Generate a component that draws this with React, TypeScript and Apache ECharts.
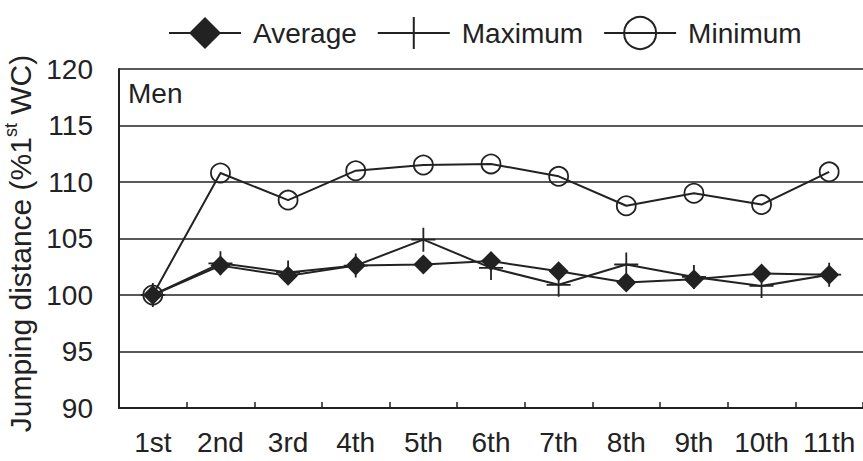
import React, { useEffect, useRef } from "react";
import * as echarts from "echarts";

const categories = ["1st", "2nd", "3rd", "4th", "5th", "6th", "7th", "8th", "9th", "10th", "11th"];
const averageValues = [100, 102.6, 101.7, 102.6, 102.7, 103.0, 102.1, 101.1, 101.4, 101.9, 101.8];
const maximumValues = [100, 102.8, 102.0, 102.6, 104.9, 102.4, 100.9, 102.7, 101.6, 100.8, 101.8];
const minimumValues = [100, 110.8, 108.4, 111.0, 111.5, 111.6, 110.5, 107.9, 109.0, 108.0, 110.9];
const yMin = 90;
const yMax = 120;
const yInterval = 5;

const INK = "#222";
const FONT = "Liberation Sans, Arial, sans-serif";
const PLUS = "path://M5,0 L5,10 M0,5 L10,5";

export default function App() {
  const ref = useRef<HTMLDivElement>(null);
  useEffect(() => {
    if (!ref.current) return;
    const chart = echarts.init(ref.current, null, { renderer: "svg" });
    chart.setOption({
      animation: false,
      textStyle: { fontFamily: FONT, color: INK },
      legend: {
        left: 163,
        top: 11,
        itemWidth: 72,
        itemHeight: 40,
        itemGap: 20,
        textStyle: { fontSize: 28, color: INK, fontFamily: FONT, padding: [0, 0, 0, 7] },
        data: ["Average", "Maximum", "Minimum"],
      },
      grid: { left: 119, right: 0, top: 69, bottom: 53, containLabel: false, outerBoundsMode: "none" },
      xAxis: {
        type: "category",
        data: categories,
        boundaryGap: true,
        axisLine: { lineStyle: { color: INK, width: 2 } },
        axisTick: { show: true, inside: true, length: 6, lineStyle: { color: INK, width: 1.5 } },
        axisLabel: { fontSize: 28, color: INK, fontFamily: FONT, margin: 20, interval: 0 },
      },
      yAxis: {
        type: "value",
        min: yMin,
        max: yMax,
        interval: yInterval,
        name: "{a|Jumping distance (%1}{s|st}{a| WC)}",
        nameLocation: "middle",
        nameGap: 61,
        nameTextStyle: {
          padding: [0, 10, 0, 0],
          rich: {
            a: { fontSize: 30, color: INK, fontFamily: FONT, lineHeight: 36 },
            s: { fontSize: 18, color: INK, fontFamily: FONT, lineHeight: 30, verticalAlign: "top" },
          },
        },
        axisLine: { show: true, lineStyle: { color: INK, width: 2 } },
        axisTick: { show: false },
        axisLabel: { fontSize: 28, color: INK, fontFamily: FONT, margin: 26 },
        splitLine: { show: true, lineStyle: { color: INK, width: 1.5 } },
      },
      graphic: [
        {
          type: "text",
          left: 128,
          top: 79,
          style: { text: "Men", font: `28px ${FONT}`, fill: INK },
        },
      ],
      series: [
        {
          name: "Average",
          type: "line",
          data: averageValues,
          symbol: "diamond",
          symbolSize: 20,
          itemStyle: { color: INK, borderColor: INK, borderWidth: 0 },
          lineStyle: { color: INK, width: 2 },
          z: 4,
        },
        {
          name: "Maximum",
          type: "line",
          data: maximumValues,
          symbol: PLUS,
          symbolSize: 24,
          itemStyle: { color: "transparent", borderColor: INK, borderWidth: 1.8 },
          lineStyle: { color: INK, width: 2 },
          z: 3,
        },
        {
          name: "Minimum",
          type: "line",
          data: minimumValues,
          symbol: "circle",
          symbolSize: 19,
          itemStyle: { color: "transparent", borderColor: INK, borderWidth: 1.8 },
          lineStyle: { color: INK, width: 2 },
          z: 2,
        },
      ],
    });
    return () => chart.dispose();
  }, []);
  return <div ref={ref} style={{ width: 863, height: 461, position: "absolute", left: 0, top: 0 }} />;
}
